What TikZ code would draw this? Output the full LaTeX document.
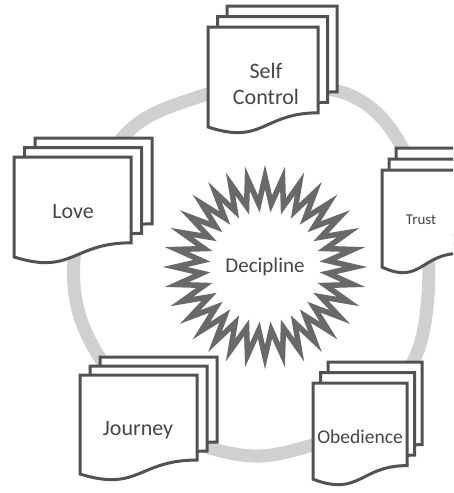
\documentclass[tikz,border=0pt]{standalone}
\usepackage{fontspec}
\setmainfont{Carlito}
\usetikzlibrary{shapes.geometric}
\definecolor{docgray}{RGB}{82,82,82}
\definecolor{stargray}{RGB}{105,105,105}
\definecolor{ringgray}{RGB}{208,208,208}
\definecolor{txtgray}{RGB}{70,70,70}
\tikzset{
  docline/.style={draw=docgray, fill=white, line width=3pt},
  ringline/.style={draw=ringgray, line width=13pt},
  burst/.style={star, star points=32, star point ratio=1.42, minimum size=180pt,
    inner sep=0pt, draw=stargray, fill=white, line width=5.5pt},
  lbl/.style={text=txtgray, font=\fontsize{22}{26}\selectfont, align=center, inner sep=0pt}
}
% #1 x, #2 y (top-left of front page), #3 width, #4 height, #5 dx, #6 dy
\newcommand{\pagestack}[6]{%
  \foreach \k in {2,1,0}{%
    \pgfmathsetmacro\xa{#1+\k*#5}%
    \pgfmathsetmacro\ya{#2+\k*#6}%
    \pgfmathsetmacro\xb{\xa+#3}%
    \pgfmathsetmacro\xm{\xa+0.5*#3}%
    \pgfmathsetmacro\yr{\ya+0.802*#4}%
    \pgfmathsetmacro\yd{\ya+1.107*#4}%
    \pgfmathsetmacro\yl{\ya+0.934*#4}%
    \draw[docline] (\xa,\ya) -- (\xb,\ya) -- (\xb,\yr)
      .. controls (\xm,\yr) and (\xm,\yd) .. (\xa,\yl) -- cycle;
  }%
}
\begin{document}
\begin{tikzpicture}[x=1pt,y=-1pt]
\useasboundingbox (0,0) rectangle (453,493);
\clip (0,0) rectangle (453,493);
\fill[white] (0,0) rectangle (453,493);
% ring
\draw[ringline] plot[smooth cycle, tension=0.6] coordinates {
  (258,86) (347,94) (398,140) (424,220) (428,295) (413,362) (365,420)
  (295,450) (235,454) (160,425) (98,355) (74,285) (86,200) (130,130) (192,99)};
% centre burst
\node[burst, text=txtgray, font=\fontsize{21}{24}\selectfont] (dec) at (265,267) {Decipline};
% documents
\pagestack{208}{27}{110}{107}{9.5}{-10.5}
\node[lbl] (self) at (266,84) {Self\\Control};
\pagestack{14}{157}{117}{107}{10.5}{-9.5}
\node[lbl] (love) at (73,212) {Love};
\pagestack{382}{170}{78}{104}{7}{-11}
\node[lbl, font=\fontsize{15}{18}\selectfont] (trust) at (421,220) {Trust};
\pagestack{80}{375}{117}{106}{10}{-9}
\node[lbl] (journey) at (138,430) {Journey};
\pagestack{313}{383}{94}{103}{7.5}{-10.5}
\node[lbl, font=\fontsize{19.5}{22}\selectfont] (obed) at (360,437) {Obedience};
\end{tikzpicture}
\end{document}
